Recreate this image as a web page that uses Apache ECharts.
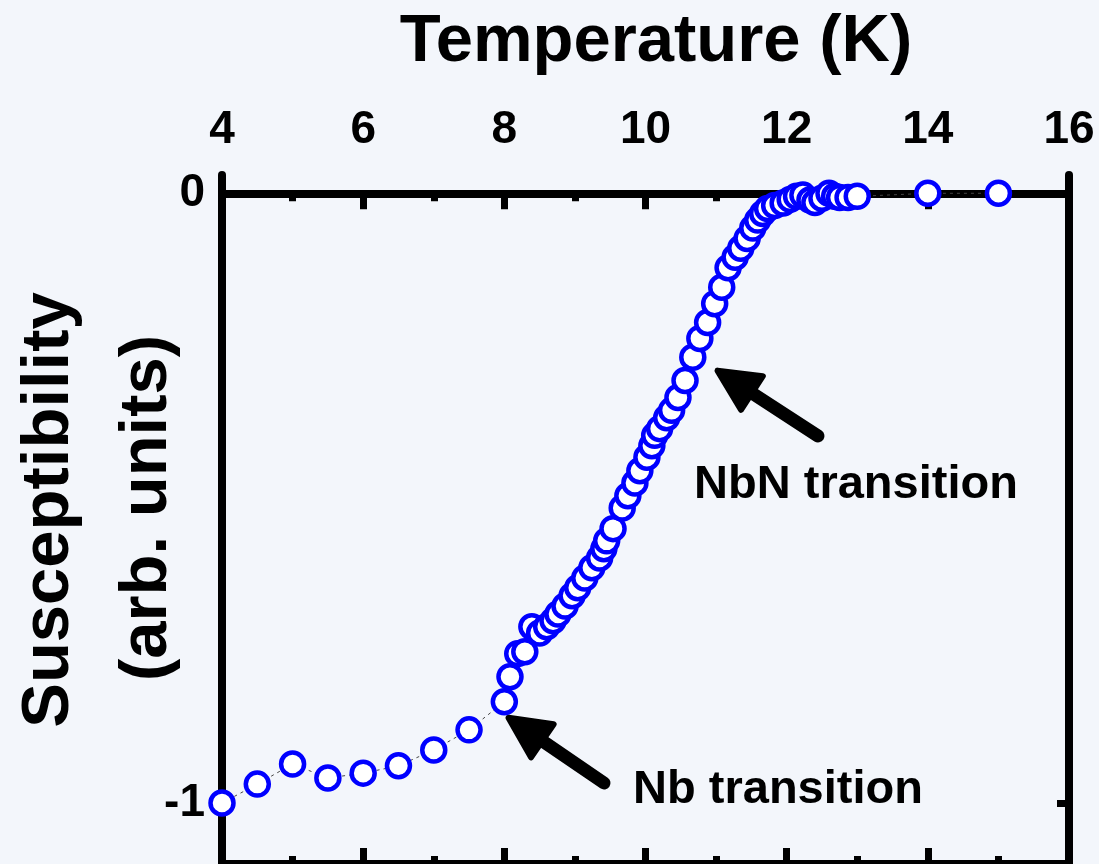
<!DOCTYPE html>
<html>
<head>
<meta charset="utf-8">
<script src="https://cdn.jsdelivr.net/npm/echarts@6/dist/echarts.min.js"></script>
<style>
html,body{margin:0;padding:0;background:#f3f6fb;}
#c{width:1099px;height:864px;}
</style>
</head>
<body>
<div id="c"></div>
<script>
// ---- data ----
const temperature = [4.0,4.5,5.0,5.5,6.0,6.5,7.0,7.5,
  8.0,8.08,8.19,8.29,8.39,8.50,8.60,8.69,8.76,8.86,
  8.96,9.04,9.14,9.24,9.35,9.41,9.45,9.54,9.67,9.75,
  9.85,9.92,10.02,10.09,10.13,10.20,10.30,10.37,10.46,10.56,
  10.67,10.77,10.88,10.98,11.08,11.17,11.27,11.35,11.44,11.52,
  11.59,11.66,11.73,11.83,11.95,12.05,12.14,12.23,12.33,12.40,
  12.50,12.60,12.68,12.75,12.87,13.0,14.0,15.0];
const susceptibility = [-1.0,-0.969,-0.936,-0.959,-0.951,-0.939,-0.913,-0.880,
  -0.834,-0.793,-0.755,-0.752,-0.711,-0.721,-0.711,-0.701,-0.690,-0.677,
  -0.660,-0.647,-0.631,-0.614,-0.598,-0.583,-0.570,-0.550,-0.516,-0.496,
  -0.475,-0.455,-0.433,-0.414,-0.397,-0.386,-0.368,-0.356,-0.335,-0.307,
  -0.269,-0.238,-0.212,-0.181,-0.154,-0.122,-0.105,-0.090,-0.074,-0.057,
  -0.044,-0.033,-0.025,-0.020,-0.016,-0.010,-0.005,-0.003,-0.011,-0.015,
  -0.008,0,-0.005,-0.007,-0.007,-0.005,0,0];
const xTickLabels = [4,6,8,10,12,14,16];
const yTickValues = [0,-1];
const xTitle = 'Temperature (K)';
const yTitleLines = ['Susceptibility','(arb. units)'];
const annotations = ['NbN transition','Nb transition'];

// ---- chart ----
const FONT = "'Liberation Sans', Arial, Helvetica, sans-serif";
const chart = echarts.init(document.getElementById('c'), null, {renderer:'canvas'});
const seriesData = temperature.map((t,i)=>[t, susceptibility[i]]);

function arrow(tip, tail){
  const dx = tail[0]-tip[0], dy = tail[1]-tip[1];
  const L = Math.hypot(dx,dy), ux = dx/L, uy = dy/L, nx = -uy, ny = ux;
  const headLen = 44, halfW = 20;
  const bx = tip[0]+ux*headLen, by = tip[1]+uy*headLen;
  return [
    {type:'line', shape:{x1:bx-ux*8, y1:by-uy*8, x2:tail[0], y2:tail[1]},
     style:{stroke:'#000', lineWidth:13, lineCap:'round'}},
    {type:'polygon', shape:{points:[[tip[0]+ux*3, tip[1]+uy*3],[bx+nx*halfW, by+ny*halfW],[bx-nx*halfW, by-ny*halfW]]},
     style:{fill:'#000', stroke:'#000', lineWidth:6, lineJoin:'round'}}
  ];
}

const axisCommonLine = {color:'#000', width:8};
const option = {
  animation:false,
  backgroundColor:'#f3f6fb',
  grid:{left:222, right:30, top:175, bottom:0, containLabel:false, outerBoundsMode:'none'},
  xAxis:[{
    type:'value', position:'top', min:4, max:16, interval:2,
    axisLine:{show:true, onZero:true, lineStyle:axisCommonLine},
    axisTick:{show:true, inside:true, length:16, lineStyle:{color:'#000', width:7}},
    minorTick:{show:true, splitNumber:2, length:8, lineStyle:{color:'#000', width:7}},
    axisLabel:{show:true, margin:22, fontSize:46, fontWeight:'bold', color:'#000', fontFamily:FONT,
      formatter:(v)=> xTickLabels.includes(v) ? String(v) : ''},
    splitLine:{show:false}, minorSplitLine:{show:false}
  },{
    type:'value', position:'bottom', min:4, max:16, interval:2,
    axisLine:{show:true, onZero:false, lineStyle:axisCommonLine},
    axisTick:{show:true, inside:true, length:16, lineStyle:{color:'#000', width:7}},
    minorTick:{show:true, splitNumber:2, length:8, lineStyle:{color:'#000', width:7}},
    axisLabel:{show:false},
    splitLine:{show:false}
  }],
  yAxis:[{
    type:'value', position:'left', min:-1.1, max:0.03, z:3,
    axisLine:{show:true, onZero:false, lineStyle:axisCommonLine},
    axisTick:{show:true, inside:true, length:12, customValues:yTickValues, lineStyle:{color:'#000', width:7}},
    axisLabel:{show:true, customValues:yTickValues, margin:17, fontSize:46, fontWeight:'bold', color:'#000', fontFamily:FONT},
    splitLine:{show:false}
  },{
    type:'value', position:'right', min:-1.1, max:0.03,
    axisLine:{show:true, onZero:false, lineStyle:axisCommonLine},
    axisTick:{show:true, inside:true, length:12, customValues:yTickValues, lineStyle:{color:'#000', width:7}},
    axisLabel:{show:false},
    splitLine:{show:false}
  }],
  series:[{
    type:'line', xAxisIndex:0, yAxisIndex:0,
    data:seriesData,
    symbol:'circle', symbolSize:23,
    itemStyle:{color:'#ffffff', borderColor:'#0000ff', borderWidth:4.5},
    lineStyle:{color:'#444', width:1, type:[3,4]},
    z:5
  }],
  graphic:[
    {type:'text', x:656, y:43, style:{text:xTitle, font:"bold 67px "+FONT, fill:'#000', textAlign:'center', textVerticalAlign:'middle'}},
    {type:'text', x:50, y:510, rotation:Math.PI/2, style:{text:yTitleLines[0], font:"bold 67px "+FONT, fill:'#000', textAlign:'center', textVerticalAlign:'middle'}},
    {type:'text', x:148, y:508, rotation:Math.PI/2, style:{text:yTitleLines[1], font:"bold 67px "+FONT, fill:'#000', textAlign:'center', textVerticalAlign:'middle'}},
    {type:'text', x:856, y:485, style:{text:annotations[0], font:"bold 47px "+FONT, fill:'#000', textAlign:'center', textVerticalAlign:'middle'}},
    {type:'text', x:778, y:790, style:{text:annotations[1], font:"bold 47px "+FONT, fill:'#000', textAlign:'center', textVerticalAlign:'middle'}},
    ...arrow([715,369],[818,436]),
    ...arrow([506,716],[604,783])
  ]
};
chart.setOption(option);
</script>
</body>
</html>
